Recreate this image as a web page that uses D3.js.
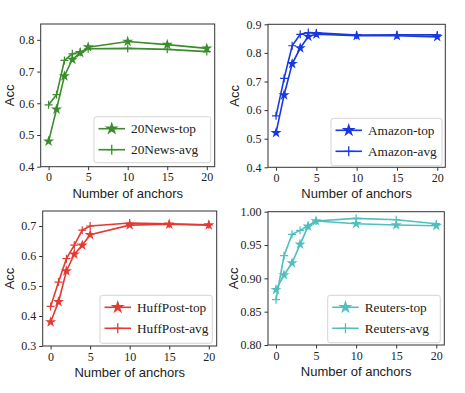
<html>
<head>
  <meta charset="UTF-8">
  <script src="https://d3js.org/d3.v7.min.js"></script>
  <style>
    body { margin: 0; background: white; }
    .tick text { font-family: "Liberation Serif", "DejaVu Serif", serif; font-size: 12px; fill: #222; }
    .axis .domain { stroke: none; }
    .axis line { stroke: #333; }
  </style>
</head>
<body>
  <svg id="chart" width="465" height="393"></svg>
  <script>
    // x values: number of anchors
    const anchors = [0, 1, 2, 3, 4, 5, 10, 15, 20];
    const xTicks = [0, 5, 10, 15, 20];

    // accuracy series
    const newsTop = [0.480, 0.581, 0.686, 0.738, 0.759, 0.777, 0.795, 0.785, 0.773];
    const newsAvg = [0.595, 0.627, 0.735, 0.756, 0.761, 0.772, 0.773, 0.770, 0.763];
    const amazonTop = [0.521, 0.653, 0.762, 0.817, 0.857, 0.865, 0.860, 0.860, 0.856];
    const amazonAvg = [0.580, 0.711, 0.825, 0.865, 0.871, 0.870, 0.862, 0.863, 0.863];
    const huffTop = [0.380, 0.447, 0.550, 0.606, 0.636, 0.671, 0.703, 0.706, 0.703];
    const huffAvg = [0.432, 0.513, 0.591, 0.636, 0.686, 0.700, 0.710, 0.707, 0.704];
    const reutersTop = [0.883, 0.905, 0.923, 0.951, 0.978, 0.986, 0.982, 0.980, 0.979];
    const reutersAvg = [0.868, 0.934, 0.966, 0.972, 0.979, 0.986, 0.990, 0.988, 0.982];

    // y tick labels per panel
    const newsTicks = [0.4, 0.5, 0.6, 0.7, 0.8];
    const amazonTicks = [0.4, 0.5, 0.6, 0.7, 0.8, 0.9];
    const huffTicks = [0.3, 0.4, 0.5, 0.6, 0.7];
    const reutersTicks = [0.80, 0.85, 0.90, 0.95, 1.00];

    const svg = d3.select("svg#chart");

    // one entry per subplot: data + where it sits
    const panels = [
      { name: "20News", top: newsTop, avg: newsAvg, color: "#3b8c2c", yDomain: [0.4, 0.85], ticks: newsTicks, fmt: ".1f",
        box: { x0: 40.7, x1: 214.7, y0: 24, y1: 166.7 }, legend: { x: 94, y: 116.7, w: 116.7, h: 46 }, yLabelX: 13.5 },
      { name: "Amazon", top: amazonTop, avg: amazonAvg, color: "#1838e2", yDomain: [0.4, 0.9], ticks: amazonTicks, fmt: ".1f",
        box: { x0: 268, x1: 445.3, y0: 24.3, y1: 167.3 }, legend: { x: 331, y: 118.3, w: 111, h: 47.4 }, yLabelX: 239 },
      { name: "HuffPost", top: huffTop, avg: huffAvg, color: "#e23b33", yDomain: [0.3, 0.75], ticks: huffTicks, fmt: ".1f",
        box: { x0: 42.7, x1: 216.7, y0: 211, y1: 346 }, legend: { x: 100, y: 295.3, w: 112.3, h: 48 }, yLabelX: 13.5 },
      { name: "Reuters", top: reutersTop, avg: reutersAvg, color: "#52bfbe", yDomain: [0.8, 1.0], ticks: reutersTicks, fmt: ".2f",
        box: { x0: 268, x1: 444.3, y0: 211.7, y1: 345 }, legend: { x: 327.7, y: 295.3, w: 112.6, h: 47.4 }, yLabelX: 238 }
    ];

    const star = d3.symbol().type(d3.symbolStar).size(38);
    const plusPath = "M-4,0H4M0,-4V4";

    panels.forEach(p => {
      const b = p.box;
      const x = d3.scaleLinear().domain([-1, 21]).range([b.x0, b.x1]);
      const y = d3.scaleLinear().domain(p.yDomain).range([b.y1, b.y0]);

      const g = svg.append("g");

      // axes
      g.append("g").attr("class", "axis")
        .attr("transform", `translate(0,${b.y1})`)
        .call(d3.axisBottom(x).tickValues(xTicks).tickSize(3.5).tickPadding(2.5));
      g.append("g").attr("class", "axis")
        .attr("transform", `translate(${b.x0},0)`)
        .call(d3.axisLeft(y).tickValues(p.ticks).tickFormat(d3.format(p.fmt)).tickSize(3.5).tickPadding(3));

      // frame
      g.append("rect")
        .attr("x", b.x0).attr("y", b.y0)
        .attr("width", b.x1 - b.x0).attr("height", b.y1 - b.y0)
        .attr("fill", "none").attr("stroke", "#333").attr("stroke-width", 1);

      // labels
      g.append("text")
        .attr("x", (b.x0 + b.x1) / 2).attr("y", b.y1 + 31)
        .attr("text-anchor", "middle")
        .style("font-family", "Liberation Sans, Arial, sans-serif").style("font-size", "13px").style("fill", "#222")
        .text("Number of anchors");
      g.append("text")
        .attr("transform", `translate(${p.yLabelX},${(b.y0 + b.y1) / 2}) rotate(-90)`)
        .attr("text-anchor", "middle")
        .style("font-family", "Liberation Sans, Arial, sans-serif").style("font-size", "13px").style("fill", "#222")
        .text("Acc");

      const line = d3.line().x((d, i) => x(anchors[i])).y(d => y(d));

      // lines
      [p.avg, p.top].forEach(series => {
        g.append("path").datum(series)
          .attr("d", line)
          .attr("fill", "none").attr("stroke", p.color).attr("stroke-width", 1.6);
      });

      // markers
      g.selectAll("path.plus").data(p.avg).join("path").attr("class", "plus")
        .attr("d", plusPath)
        .attr("transform", (d, i) => `translate(${x(anchors[i])},${y(d)})`)
        .attr("stroke", p.color).attr("stroke-width", 1.2).attr("fill", "none");
      g.selectAll("path.star").data(p.top).join("path").attr("class", "star")
        .attr("d", star)
        .attr("transform", (d, i) => `translate(${x(anchors[i])},${y(d)})`)
        .attr("fill", p.color);

      // legend
      const L = p.legend;
      g.append("rect")
        .attr("x", L.x).attr("y", L.y).attr("width", L.w).attr("height", L.h)
        .attr("rx", 2.5)
        .attr("fill", "white").attr("fill-opacity", 0.85)
        .attr("stroke", "#d0d0d0").attr("stroke-width", 0.9);

      const rows = [
        { label: p.name + "-top", kind: "star" },
        { label: p.name + "-avg", kind: "plus" }
      ];
      rows.forEach((r, i) => {
        const ry = L.y + 12 + i * 21;
        const lx0 = L.x + 4.5, lx1 = L.x + 31;
        g.append("line")
          .attr("x1", lx0).attr("x2", lx1).attr("y1", ry).attr("y2", ry)
          .attr("stroke", p.color).attr("stroke-width", 1.6);
        if (r.kind === "star") {
          g.append("path").attr("d", d3.symbol().type(d3.symbolStar).size(60))
            .attr("transform", `translate(${(lx0 + lx1) / 2},${ry})`).attr("fill", p.color);
        } else {
          g.append("path").attr("d", "M-5,0H5M0,-5V5")
            .attr("transform", `translate(${(lx0 + lx1) / 2},${ry})`)
            .attr("stroke", p.color).attr("stroke-width", 1.3);
        }
        g.append("text")
          .attr("x", L.x + 37).attr("y", ry + 4.5)
          .style("font-family", "Liberation Serif, DejaVu Serif, serif").style("font-size", "13.3px").style("fill", "#222")
          .text(r.label);
      });
    });
  </script>
</body>
</html>
